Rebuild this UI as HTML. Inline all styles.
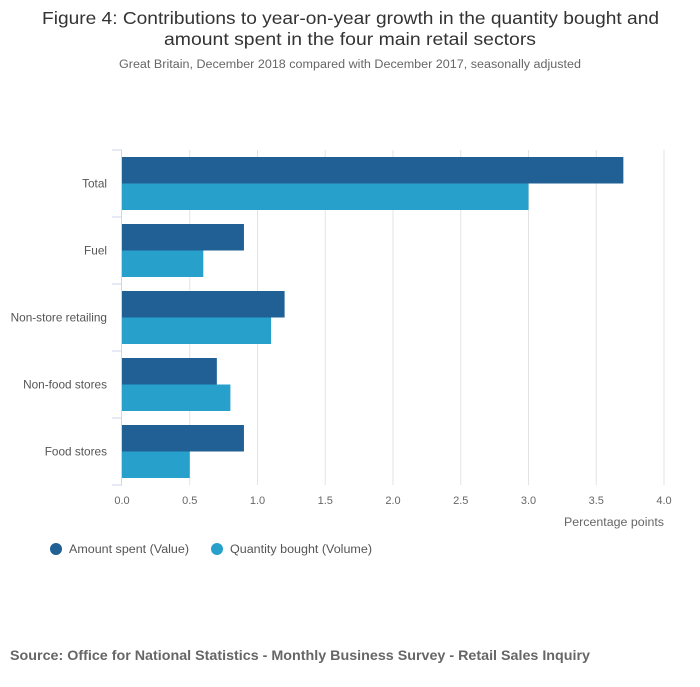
<!DOCTYPE html>
<html><head><meta charset="utf-8"><style>
body{margin:0;background:#fff;font-family:"Liberation Sans",sans-serif;}
svg text{font-family:"Liberation Sans",sans-serif;}
</style></head><body>
<svg width="700" height="682" xmlns="http://www.w3.org/2000/svg">
<text x="42" y="24" textLength="617" lengthAdjust="spacingAndGlyphs" font-size="17.5" fill="#333">Figure 4: Contributions to year-on-year growth in the quantity bought and</text>
<text x="164" y="45" textLength="372" lengthAdjust="spacingAndGlyphs" font-size="17.5" fill="#333">amount spent in the four main retail sectors</text>
<text x="119" y="68" textLength="462" lengthAdjust="spacingAndGlyphs" font-size="11.5" fill="#666">Great Britain, December 2018 compared with December 2017, seasonally adjusted</text>
<g id="grid"></g>
<g id="bars"></g>
<g id="axes"></g>
<text x="564" y="526" textLength="100" lengthAdjust="spacingAndGlyphs" font-size="11.5" fill="#666">Percentage points</text>
<g>
<circle cx="56" cy="549" r="6" fill="#206095"/>
<text x="69" y="553" textLength="120" lengthAdjust="spacingAndGlyphs" font-size="11.5" fill="#555">Amount spent (Value)</text>
<circle cx="217" cy="549" r="6" fill="#27a0cc"/>
<text x="230" y="553" textLength="142" lengthAdjust="spacingAndGlyphs" font-size="11.5" fill="#555">Quantity bought (Volume)</text>
</g>
<text x="10" y="660" textLength="580" lengthAdjust="spacingAndGlyphs" font-size="14" font-weight="bold" fill="#666">Source: Office for National Statistics - Monthly Business Survey - Retail Sales Inquiry</text>
</svg>
<script>
const categories=["Total","Fuel","Non-store retailing","Non-food stores","Food stores"];
const valueSeries=[3.7,0.9,1.2,0.7,0.9];
const volumeSeries=[3.0,0.6,1.1,0.8,0.5];
const xTicks=[0,0.5,1,1.5,2,2.5,3,3.5,4];
const xTickLabels=["0.0","0.5","1.0","1.5","2.0","2.5","3.0","3.5","4.0"];
const NS="http://www.w3.org/2000/svg";
const x0=122,x1=664,y0=150,y1=485,xMax=4;
const xs=v=>x0+(v/xMax)*(x1-x0);
const band=(y1-y0)/categories.length;
function mk(t,a,p){const e=document.createElementNS(NS,t);for(const k in a)e.setAttribute(k,a[k]);p.appendChild(e);return e;}
const grid=document.getElementById('grid'),bars=document.getElementById('bars'),axes=document.getElementById('axes');
xTicks.forEach((v,i)=>{
 if(v>0){const l=mk('line',{x1:xs(v),x2:xs(v),y1:y0,y2:y1,stroke:'#e3e3e3','stroke-width':1},grid);
 
 }
 const t=mk('text',{x:xs(v),y:504,'text-anchor':'middle','font-size':11,fill:'#666'},axes);t.textContent=xTickLabels[i];
 
 
});
const ax=mk('line',{x1:121.5,x2:121.5,y1:y0,y2:y1,stroke:'#ccd6eb','stroke-width':1},axes);


for(let i=0;i<=categories.length;i++){const y=y0+i*band;
 const tk=mk('line',{x1:112,x2:122,y1:y,y2:y,stroke:'#ccd6eb','stroke-width':1},axes);
 
 }
const bh=26.5;
categories.forEach((c,i)=>{
 const top=y0+i*band+7;
 const r1=mk('rect',{x:x0,y:top,width:xs(valueSeries[i])-x0,height:bh,fill:'#206095'},bars);
 
 
 const r2=mk('rect',{x:x0,y:top+bh,width:xs(volumeSeries[i])-x0,height:bh,fill:'#27a0cc'},bars);
 
 
 const t=mk('text',{x:107,y:y0+i*band+band/2+4,'text-anchor':'end','font-size':11.8,fill:'#555'},axes);t.textContent=c;
 
 
});
</script>
</body></html>
